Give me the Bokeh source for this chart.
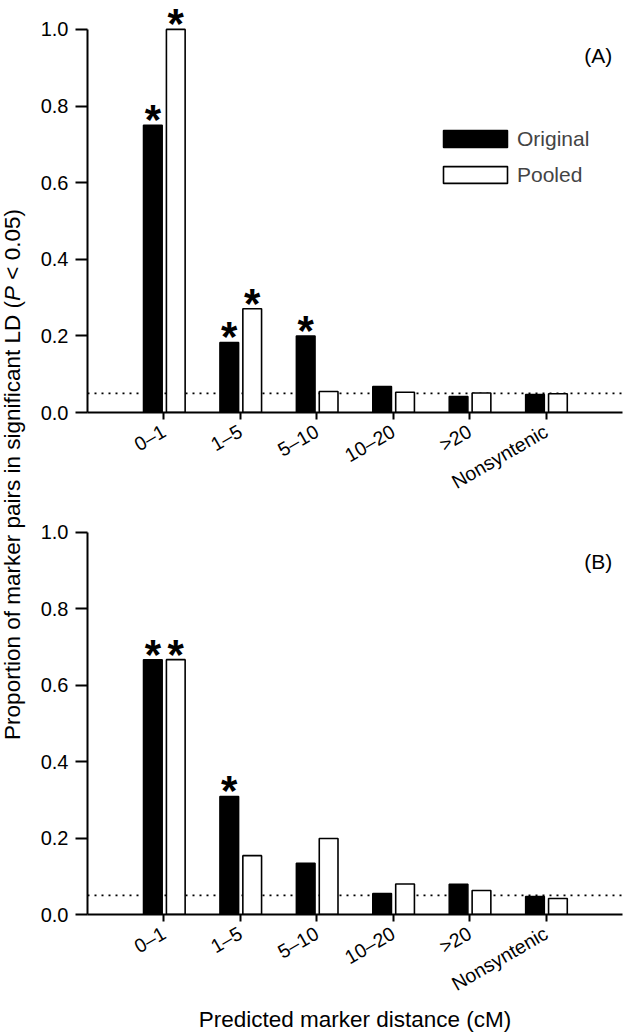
import numpy as np
from bokeh.plotting import figure
from bokeh.models import Range1d, FixedTicker, Span, Label, Legend, LegendItem
from bokeh.layouts import row, column
from bokeh.core.properties import value
from bokeh.embed import file_html
from bokeh.resources import INLINE

# ---------------- data ----------------
categories = ["0–1", "1–5", "5–10", "10–20", ">20", "Nonsyntenic"]
a_original = [0.750, 0.183, 0.200, 0.068, 0.042, 0.047]
a_pooled = [1.000, 0.271, 0.055, 0.053, 0.051, 0.049]
b_original = [0.667, 0.309, 0.134, 0.055, 0.079, 0.047]
b_pooled = [0.667, 0.154, 0.199, 0.080, 0.063, 0.042]
a_original_sig = [True, True, True, False, False, False]
a_pooled_sig = [True, True, False, False, False, False]
b_original_sig = [True, True, False, False, False, False]
b_pooled_sig = [True, False, False, False, False, False]
threshold = 0.05
y_ticks = [0.0, 0.2, 0.4, 0.6, 0.8, 1.0]
y_tick_labels = ["0.0", "0.2", "0.4", "0.6", "0.8", "1.0"]
series_names = ["Original", "Pooled"]
y_title_parts = ["Proportion of marker pairs in significant LD (", "P", "< 0.05)"]
x_title = "Predicted marker distance (cM)"

FONT = "Liberation Sans"
pos = np.arange(1, len(categories) + 1, dtype=float)
OFF_O, OFF_P, BW = -0.145, 0.155, 0.245


def make_panel(orig, pool, sig_o, sig_p, tag, tag_y, height, y_end, bt, bb, legend=False, xlabel=None):
    p = figure(width=594, height=height, x_range=Range1d(0, 7), y_range=Range1d(0, y_end),
               output_backend="svg", toolbar_location=None,
               min_border_left=57, min_border_right=2, min_border_top=bt, min_border_bottom=bb)
    p.outline_line_color = None
    p.grid.visible = False
    p.background_fill_color = "white"
    p.add_layout(Span(location=threshold, dimension="width", line_color="black",
                      line_width=1.6, line_dash="2 5", level="underlay"))
    r1 = p.vbar(x=pos + OFF_O, top=orig, width=BW, fill_color="black", line_color="black", line_width=1.5)
    r2 = p.vbar(x=pos + OFF_P, top=pool, width=BW, fill_color="white", line_color="black", line_width=1.6)
    so = np.array(sig_o); sp = np.array(sig_p)
    xs = np.concatenate([pos[so] + OFF_O, pos[sp] + OFF_P])
    ys = np.concatenate([np.array(orig)[so], np.array(pool)[sp]])
    p.text(x=xs, y=ys, text=["*"] * len(xs), text_font=value(FONT), text_font_style="bold",
           text_font_size="42px", text_align="center", text_baseline="top",
           y_offset=-29, text_color="black")

    for ax in (p.xaxis[0], p.yaxis[0]):
        ax.axis_line_width = 2
        ax.major_tick_line_width = 2
        ax.major_tick_in = 0
        ax.minor_tick_line_color = None
        ax.major_label_text_font = FONT
        ax.major_label_text_color = "black"
        ax.axis_line_color = "black"
        ax.major_tick_line_color = "black"
    p.xaxis.ticker = FixedTicker(ticks=list(pos))
    p.xaxis.major_label_overrides = {float(v): c for v, c in zip(pos, categories)}
    p.xaxis.major_label_orientation = np.pi / 6
    p.xaxis.major_label_text_font_size = "19.5px"
    p.xaxis.major_tick_out = 7
    p.xaxis.major_label_standoff = 10

    p.yaxis.ticker = FixedTicker(ticks=y_ticks)
    p.yaxis.major_label_overrides = {v: s for v, s in zip(y_ticks, y_tick_labels)}
    p.yaxis.major_label_text_font_size = "20px"
    p.yaxis.major_tick_out = 12
    p.yaxis.major_label_standoff = 7
    p.yaxis.bounds = (0, 1)
    if xlabel:
        p.xaxis.axis_label = xlabel
        p.xaxis.axis_label_text_font = FONT
        p.xaxis.axis_label_text_font_size = "22.5px"
        p.xaxis.axis_label_text_font_style = "normal"
        p.xaxis.axis_label_text_color = "black"
        p.xaxis.axis_label_standoff = 0

    p.add_layout(Label(x=6.865, y=tag_y, text=tag, text_align="right", text_baseline="middle",
                       text_font=FONT, text_font_size="21px", text_color="black"))
    if legend:
        lg = Legend(items=[LegendItem(label=series_names[0], renderers=[r1]),
                           LegendItem(label=series_names[1], renderers=[r2])],
                    location=(348, 225.5), glyph_width=80, glyph_height=21, label_standoff=2,
                    label_text_font=FONT, label_text_font_size="21px", padding=0, margin=0,
                    spacing=12, border_line_color=None, background_fill_alpha=0)
        p.add_layout(lg)
    return p


pA = make_panel(a_original, a_pooled, a_original_sig, a_pooled_sig, "(A)", 0.932,
                505, 1.0755, 0, 92, legend=True)
pB = make_panel(b_original, b_pooled, b_original_sig, b_pooled_sig, "(B)", 0.925,
                530, 1.0208, 19, 118, xlabel=x_title)

# shared y-axis title (italic P)
H = 1035
yl = figure(width=30, height=H, x_range=Range1d(0, 30), y_range=Range1d(0, H),
            output_backend="svg", toolbar_location=None, min_border=0,
            x_axis_location=None, y_axis_location=None)
yl.outline_line_color = None
yl.grid.visible = False
fs = 22.5
em_w = [19.506, 0.667 + 0.278]
y0 = 295.6
starts = [y0, y0 + em_w[0] * fs, y0 + (em_w[0] + em_w[1]) * fs]
styles = ["normal", "italic", "normal"]
for txt, yy, st in zip(y_title_parts, starts, styles):
    yl.text(x=[12], y=[yy], text=[txt], angle=np.pi / 2, text_align="left", text_baseline="middle",
            text_font=value(FONT), text_font_size=f"{fs}px", text_font_style=st, text_color="black")

layout = row(yl, column(pA, pB))
open("out.html", "w").write(file_html(layout, INLINE))
